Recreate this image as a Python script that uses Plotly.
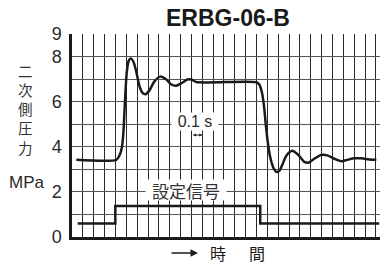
import plotly.graph_objects as go

# Secondary pressure (MPa) vs time (s)
time_s = [0.040, 0.408, 0.436, 0.459, 0.472, 0.482, 0.491, 0.505, 0.523, 0.542,
          0.565, 0.592, 0.620, 0.648, 0.675, 0.712, 0.758, 0.813, 0.869, 0.915,
          0.961, 1.016, 1.062, 1.099, 1.145, 1.698, 1.725, 1.748, 1.767, 1.785,
          1.804, 1.827, 1.855, 1.882, 1.910, 1.937, 1.974, 2.029, 2.084, 2.140,
          2.177, 2.232, 2.297, 2.352, 2.417, 2.481, 2.536, 2.600, 2.665, 2.738,
          2.803]
pressure = [3.42, 3.42, 3.60, 3.96, 4.53, 5.42, 6.31, 7.33, 7.82, 7.91,
            7.78, 7.33, 6.71, 6.40, 6.33, 6.49, 6.89, 7.11, 6.98, 6.76,
            6.71, 6.84, 6.98, 6.98, 6.87, 6.86, 6.76, 6.44, 5.87, 4.98,
            4.18, 3.51, 3.07, 2.89, 2.93, 3.20, 3.60, 3.82, 3.64, 3.33,
            3.29, 3.47, 3.64, 3.62, 3.47, 3.36, 3.42, 3.49, 3.49, 3.44,
            3.42]

# Setting signal (step)
signal_t = [0.052, 0.399, 1.734, 2.830]
signal_v = [0.60, 1.37, 0.60, 0.60]

y_tickvals = [0, 1, 2, 3, 4, 5, 6, 7, 8, 9]
y_ticktext = ["0", "", "2", "", "4", "", "6", "", "8", "9"]

title_text = "ERBG-06-B"
ytitle_chars = ["二", "次", "側", "圧", "力"]
unit_text = "MPa"
signal_label = "設定信号"
scale_label = "0.1 s"
xlabel_chars = ["時", "間"]

LAT = "Liberation Sans, Arial, sans-serif"
CJK = "Noto Sans CJK JP, sans-serif"

fig = go.Figure()
fig.add_trace(go.Scatter(x=time_s, y=pressure, mode="lines",
                         line=dict(color="#1a1a1a", width=2.5, shape="spline", smoothing=0.7),
                         hoverinfo="skip"))
fig.add_trace(go.Scatter(x=signal_t, y=signal_v, mode="lines",
                         line=dict(color="#1a1a1a", width=2.5, shape="hv"),
                         hoverinfo="skip"))

fig.update_layout(
    width=382, height=264,
    margin=dict(l=72, r=2, t=34, b=27),
    paper_bgcolor="white", plot_bgcolor="white",
    showlegend=False,
    title=dict(text="<b>" + title_text + "</b>", x=228 / 382, xanchor="center",
               y=1 - 18 / 264, yanchor="middle",
               font=dict(family=LAT, size=23, color="#1a1a1a")),
    xaxis=dict(range=[0, 2.837], tick0=0, dtick=0.1, showticklabels=False, ticks="",
               showgrid=True, gridcolor="#2a2a2a", gridwidth=1, zeroline=False,
               showline=True, linecolor="#1a1a1a", linewidth=3, automargin=False),
    yaxis=dict(range=[0, 9], tickvals=y_tickvals, ticktext=y_ticktext, ticks="",
               tickfont=dict(family=LAT, size=18, color="#2a2a2a"),
               ticklabelstandoff=4, automargin=False,
               showgrid=True, gridcolor="#555555", gridwidth=1, zeroline=False,
               showline=True, linecolor="#1a1a1a", linewidth=2.5),
)

ann = []
for i, ch in enumerate(ytitle_chars):
    py = 70 + i * 19.3
    ann.append(dict(x=(25 - 72) / 308, y=(237 - py) / 203, xref="paper", yref="paper",
                    text=ch, showarrow=False, xanchor="center", yanchor="middle",
                    font=dict(family=CJK, size=14.5, color="#333333")))
ann.append(dict(x=(26.5 - 72) / 308, y=(237 - 182) / 203, xref="paper", yref="paper",
                text=unit_text, showarrow=False, xanchor="center", yanchor="middle",
                font=dict(family=LAT, size=17, color="#2a2a2a")))
ann.append(dict(x=1.131, y=5.12, xref="x", yref="y", text=scale_label, showarrow=False,
                bgcolor="white", width=46, height=17, borderpad=0,
                font=dict(family=LAT, size=16, color="#2a2a2a")))
ann.append(dict(x=1.2, y=4.52, xref="x", yref="y", ax=1.1, ay=4.52, axref="x", ayref="y",
                text="", showarrow=True, arrowside="end+start", arrowhead=2,
                arrowsize=0.6, arrowwidth=1, arrowcolor="#1a1a1a"))
ann.append(dict(x=1.053, y=2.08, xref="x", yref="y", text=signal_label, showarrow=False,
                bgcolor="white", width=80, height=20, borderpad=0,
                font=dict(family=CJK, size=17, color="#333333")))
ann.append(dict(x=(198 - 72) / 308, y=(237 - 253) / 203, xref="paper", yref="paper",
                ax=-28, ay=0, text="", showarrow=True, arrowhead=2, arrowsize=1,
                arrowwidth=1.5, arrowcolor="#1a1a1a"))
for ch, px in zip(xlabel_chars, [217.5, 256.5]):
    ann.append(dict(x=(px - 72) / 308, y=(237 - 252.5) / 203, xref="paper", yref="paper",
                    text=ch, showarrow=False, xanchor="center", yanchor="middle",
                    font=dict(family=CJK, size=16, color="#1a1a1a")))
fig.update_layout(annotations=ann)

fig.write_html("out.html", config={"displayModeBar": False},
               post_script="document.body.style.margin='0';document.body.style.overflow='hidden';")
